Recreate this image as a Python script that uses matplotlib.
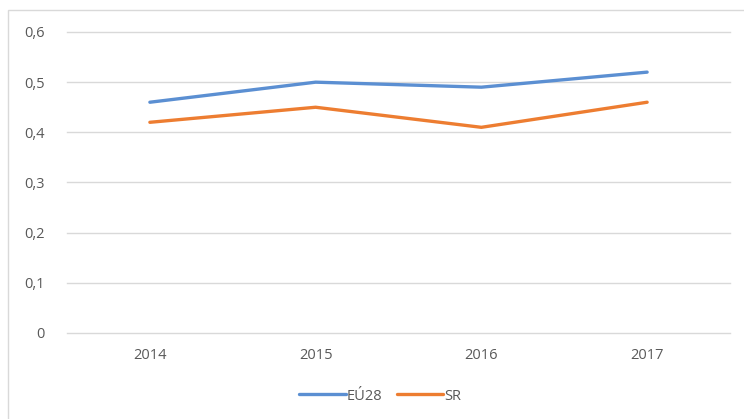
import matplotlib
matplotlib.use("Agg")
import matplotlib.pyplot as plt
from matplotlib.patches import Rectangle

years = ["2014", "2015", "2016", "2017"]
eu28 = [0.46, 0.50, 0.49, 0.52]
sr = [0.42, 0.45, 0.41, 0.46]
yticks = [0, 0.1, 0.2, 0.3, 0.4, 0.5, 0.6]
ytick_labels = ["0", "0,1", "0,2", "0,3", "0,4", "0,5", "0,6"]

plt.rcParams['font.family'] = ['Open Sans', 'DejaVu Sans']
W, H = 744, 419
fig = plt.figure(figsize=(W / 100, H / 100), dpi=100)
fig.patch.set_facecolor("white")

# chart border
fig.add_artist(Rectangle((8 / W, -0.05), 1.0, 1 - 10 / H + 0.05, transform=fig.transFigure,
                         fill=False, edgecolor="#D9D9D9", linewidth=1))

ax = fig.add_axes([67 / W, 1 - 333 / H, (730 - 67) / W, (333 - 32) / H])
x = list(range(len(years)))
ax.plot(x, eu28, color="#5B8FD2", linewidth=2.4, label="EÚ28", solid_capstyle="round")
ax.plot(x, sr, color="#ED7D31", linewidth=2.4, label="SR", solid_capstyle="round")
ax.set_xlim(-0.5, len(years) - 0.5)
ax.set_ylim(0, 0.6)
ax.set_yticks(yticks)
ax.set_yticklabels(ytick_labels)
ax.set_xticks(x)
ax.set_xticklabels(years)
ax.grid(axis="y", color="#D9D9D9", linewidth=1, clip_on=False)
ax.set_axisbelow(True)
for s in ax.spines.values():
    s.set_visible(False)
ax.tick_params(axis="both", length=0, labelsize=10.5, labelcolor="#595959")
ax.tick_params(axis="y", pad=16)
ax.tick_params(axis="x", pad=11)

leg = fig.legend(loc="center", bbox_to_anchor=(380 / W, 1 - 396 / H), ncol=2, frameon=False,
                 fontsize=10.5, handlelength=3.2, columnspacing=1.0, handletextpad=0.05)
for t in leg.get_texts():
    t.set_color("#595959")

fig.savefig("out.png", dpi=100)
